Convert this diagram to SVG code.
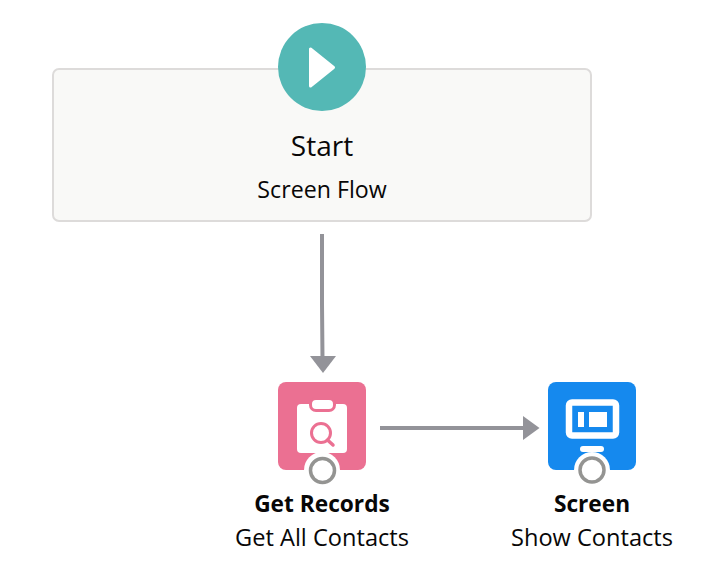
<svg xmlns="http://www.w3.org/2000/svg" width="718" height="576" viewBox="0 0 718 576">
<style>
text{font-family:"Open Sans","Noto Sans","Liberation Sans",sans-serif;fill:#080707;text-anchor:middle}
.c{fill:none;stroke:#939399;stroke-width:4}
.h{fill:#939399}
.ring{fill:#fff;stroke:#949492;stroke-width:3.5}
</style>
<rect width="718" height="576" fill="#fff"/>
<g id="connectors">
<path class="c" d="M322 234V304L322.500 358"/>
<polygon class="h" points="310,356 336,356 323,373"/>
<path class="c" d="M380 428H526"/>
<polygon class="h" points="523,416 539.500,428 523,440"/>
</g>
<g id="start">
<rect x="53" y="69" width="538" height="152" rx="6" fill="#f9f9f7" stroke="#dddbda" stroke-width="2"/>
<circle cx="322" cy="67" r="44" fill="#54b8b5"/>
<path d="M310.500 49V86L333.500 67.500Z" fill="#fff" stroke="#fff" stroke-width="3" stroke-linejoin="round"/>
<text x="322" y="156" font-size="28">Start</text>
<text x="322" y="198" font-size="23.200">Screen Flow</text>
</g>
<g id="get-records">
<rect x="278" y="382" width="88" height="88" rx="8" fill="#eb7092"/>
<rect x="297" y="404" width="50" height="49" rx="4" fill="#fff"/>
<rect x="310.500" y="398.500" width="24" height="12" rx="5.500" fill="#fff" stroke="#eb7092" stroke-width="3"/>
<circle cx="321" cy="433" r="9.500" fill="none" stroke="#eb7092" stroke-width="3"/>
<path d="M327.500 440L333 445" stroke="#eb7092" stroke-width="3.500" stroke-linecap="round"/>
<circle cx="322" cy="470" r="18" fill="#fff"/>
<circle class="ring" cx="322.500" cy="470.500" r="12"/>
<text x="322" y="512" font-size="22.700" font-weight="700">Get Records</text>
<text x="322" y="546" font-size="23.600">Get All Contacts</text>
</g>
<g id="screen">
<rect x="548" y="382" width="88" height="88" rx="8" fill="#1589ee"/>
<rect x="569" y="402.500" width="47" height="33" rx="3" fill="none" stroke="#fff" stroke-width="6.500"/>
<rect x="578" y="412" width="6" height="15" fill="#fff"/>
<rect x="589" y="412" width="18" height="15" fill="#fff"/>
<rect x="580" y="446" width="24" height="6" rx="3" fill="#fff"/>
<circle cx="592" cy="470" r="18" fill="#fff"/>
<circle class="ring" cx="592" cy="470" r="12"/>
<text x="592" y="512" font-size="22.700" font-weight="700">Screen</text>
<text x="592" y="546" font-size="23.600">Show Contacts</text>
</g>
</svg>
